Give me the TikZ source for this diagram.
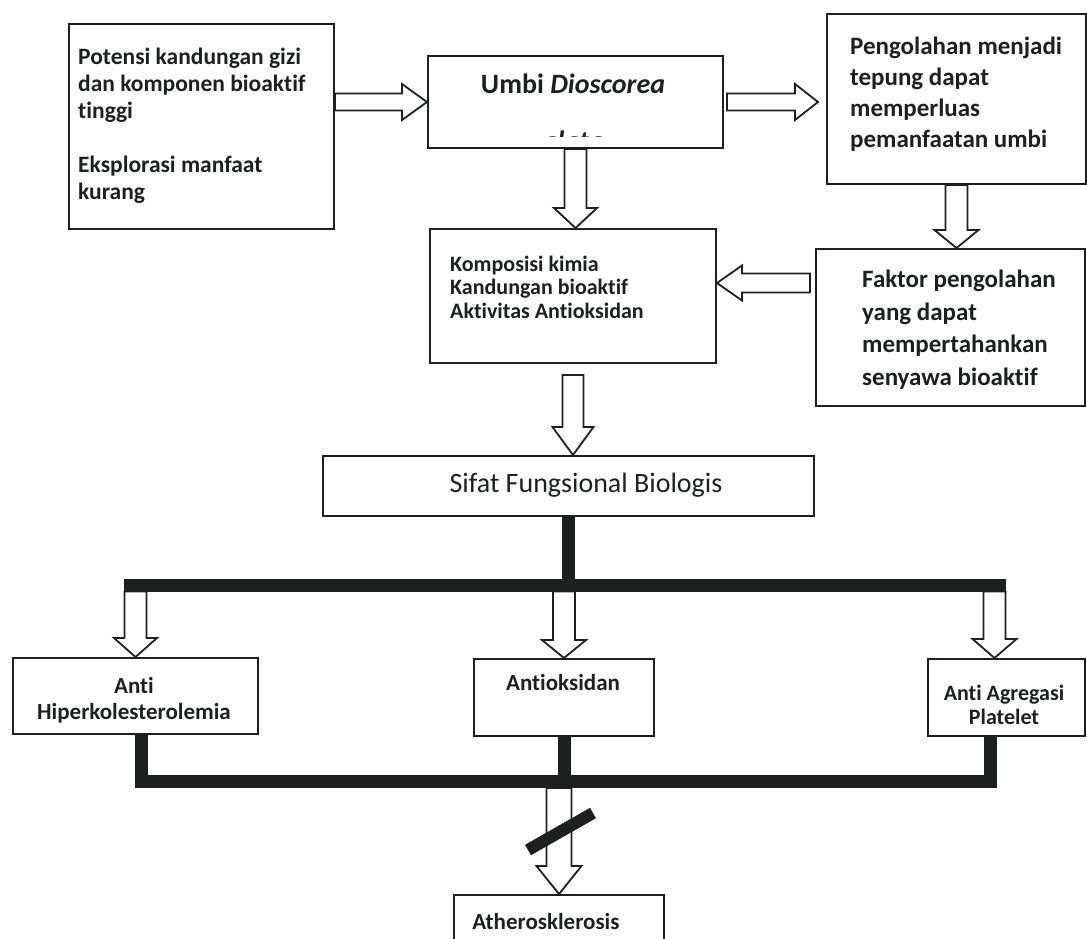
\documentclass[tikz,border=0pt]{standalone}
\usepackage{fontspec}
\setmainfont{Carlito}[Ligatures=NoCommon]
\usetikzlibrary{calc}
\definecolor{ink}{RGB}{30,32,32}
\newcommand\vblk[5]{%
  \path (#1) coordinate (vs) (#2) coordinate (ve);
  \path (vs|-ve) coordinate (vt);
  \draw[blk] ($(vs)+(-#3,0)$) -- ($(vt)+(-#3,-#5)$) -- ($(vt)+(-#4,-#5)$) -- (vt)
    -- ($(vt)+(#4,-#5)$) -- ($(vt)+(#3,-#5)$) -- ($(vs)+(#3,0)$) -- cycle;}
\newcommand\hblk[6]{%
  \path (#1) coordinate (hs) (#2) coordinate (he);
  \path (he|-hs) coordinate (ht);
  \draw[blk] ($(hs)+(0,-#3)$) -- ($(ht)+({-#6*#5},-#3)$) -- ($(ht)+({-#6*#5},-#4)$) -- (ht)
    -- ($(ht)+({-#6*#5},#4)$) -- ($(ht)+({-#6*#5},#3)$) -- ($(hs)+(0,#3)$) -- cycle;}
\begin{document}
\begin{tikzpicture}[x=1pt,y=-1pt,
  box/.style={draw=ink, line width=2pt, inner sep=0pt, anchor=north west},
  blk/.style={draw=ink, line width=1.8pt, fill=white, line join=miter},
  bar/.style={draw=ink, line width=13pt},
  txt/.style={inner sep=0pt, text=ink, align=left},
  ctxt/.style={inner sep=0pt, text=ink, align=center}]
\useasboundingbox (0,0) rectangle (1087,938);
\clip (0,0) rectangle (1087,938);
\fill[white] (0,0) rectangle (1087,938);

% boxes
\node[box, minimum width=265pt, minimum height=205pt] (b1) at (68,23) {};
\node[box, minimum width=295pt, minimum height=92pt] (umbi) at (427,55) {};
\node[box, minimum width=259pt, minimum height=170pt] (b3) at (826,13) {};
\node[box, minimum width=286pt, minimum height=134pt] (komp) at (429,228) {};
\node[box, minimum width=269pt, minimum height=157pt] (faktor) at (815,248) {};
\node[box, minimum width=491pt, minimum height=60pt] (sifat) at (322,455) {};
\node[box, minimum width=245pt, minimum height=76pt] (hiper) at (12,657) {};
\node[box, minimum width=180pt, minimum height=77pt] (antiok) at (473,658) {};
\node[box, minimum width=157pt, minimum height=77pt] (agreg) at (927,658) {};
\node[box, minimum width=210pt, minimum height=80pt] (ather) at (453,894) {};

% texts
\node[txt, anchor=west, font=\bfseries\fontsize{23.5}{27}\selectfont] (t1) at (78,126)
  {Potensi kandungan gizi\\dan komponen bioaktif\\tinggi\\[27pt]Eksplorasi manfaat\\kurang};
\node[ctxt, font=\bfseries\fontsize{28}{32}\selectfont] (tumbi) at (573,84) {Umbi \textit{Dioscorea}};
\begin{scope}
  \clip (428,60) rectangle (720,136);
  \node[ctxt, anchor=base, font=\bfseries\itshape\fontsize{28}{32}\selectfont] (talata) at (573,150) {alata};
\end{scope}
\node[txt, anchor=west, font=\bfseries\fontsize{25}{31}\selectfont] (t3) at (850,94)
  {Pengolahan menjadi\\tepung dapat\\memperluas\\pemanfaatan umbi};
\node[txt, anchor=west, font=\bfseries\fontsize{22}{23.5}\selectfont] (tkomp) at (450,287)
  {Komposisi kimia\\Kandungan bioaktif\\Aktivitas Antioksidan};
\node[txt, anchor=west, font=\bfseries\fontsize{25}{32.5}\selectfont] (tfak) at (862,329.5)
  {Faktor pengolahan\\yang dapat\\mempertahankan\\senyawa bioaktif};
\node[ctxt, font=\fontsize{28}{33}\selectfont] (tsifat) at (586,485) {Sifat Fungsional Biologis};
\node[ctxt, font=\bfseries\fontsize{23}{26}\selectfont] (thiper) at (134,700) {Anti\\Hiperkolesterolemia};
\node[ctxt, font=\bfseries\fontsize{23}{26}\selectfont] (tantiok) at (563,683) {Antioksidan};
\node[ctxt, font=\bfseries\fontsize{22}{24}\selectfont] (tagreg) at (1004,705) {Anti Agregasi\\Platelet};
\node[ctxt, font=\bfseries\fontsize{23}{26}\selectfont] (tather) at (546,922) {Atherosklerosis};

% block arrows (top part)
\hblk{b1.east|-umbi.west}{umbi.west}{8.5}{18}{25}{1}
\hblk{$(umbi.east)+(3,0)$}{$(b3.west)+(-8,0)$}{8.5}{18}{23}{1}
\vblk{umbi.south}{komp.north}{11}{21.5}{20}
\vblk{b3.south}{faktor.north}{11}{22}{18}
\hblk{$(faktor.north west)+(-5,35)$}{komp.east}{9.5}{17.5}{25}{-1}
\vblk{$(komp.south)+(0,11)$}{sifat.north}{10.5}{20.5}{28}

% tree
\coordinate (tbL) at (123.5,585);
\coordinate (tbR) at (1005.5,585);
\draw[bar] (sifat.south) -- (sifat.south|-tbL);
\draw[bar] (tbL) -- (tbR);
\vblk{$(hiper.north|-tbL)+(0,6.5)$}{hiper.north}{11}{21.5}{19}
\vblk{$(antiok.north|-tbL)+(0,6.5)$}{antiok.north}{11}{22}{18}
\vblk{$(tbR)+(-11,6.5)$}{agreg.north}{11}{22}{19}

\coordinate (bbM) at (562,781);
\draw[bar, line join=miter] ($(hiper.south)+(6,0)$) |- (bbM) -| ($(agreg.south)+(-16.5,0)$);
\draw[bar] (antiok.south) -- (antiok.south|-bbM);
\vblk{$(ather.north|-bbM)+(0,7)$}{ather.north}{12.5}{22.5}{28}
\draw[bar, line width=12pt] ($(ather.north)+(-31,-44)$) -- ($(ather.north)+(34,-81)$);
\end{tikzpicture}
\end{document}
